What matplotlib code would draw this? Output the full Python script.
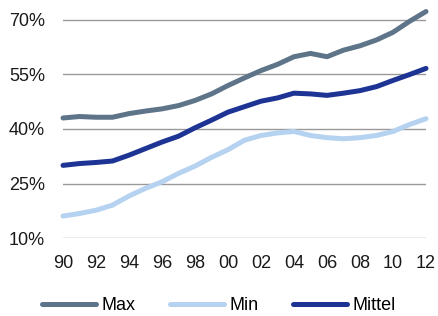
import matplotlib
matplotlib.use("Agg")
import matplotlib.pyplot as plt
import numpy as np

plt.rcParams.update({"font.family": ["Liberation Sans", "DejaVu Sans"],
                     "font.size": 13})

years = np.arange(1990, 2013)
max_vals = [43.0, 43.4, 43.2, 43.2, 44.2, 44.9, 45.5, 46.4, 47.8, 49.6, 51.9,
            54.0, 56.0, 57.7, 59.8, 60.7, 59.8, 61.6, 62.8, 64.4, 66.5, 69.5, 72.2]
min_vals = [16.1, 16.8, 17.7, 19.1, 21.6, 23.7, 25.5, 27.8, 29.8, 32.2, 34.3,
            36.9, 38.2, 38.9, 39.3, 38.2, 37.6, 37.3, 37.6, 38.2, 39.3, 41.2, 42.8]
mittel_vals = [30.0, 30.5, 30.8, 31.2, 32.8, 34.6, 36.4, 38.0, 40.3, 42.4, 44.6,
               46.1, 47.6, 48.5, 49.8, 49.6, 49.2, 49.8, 50.5, 51.6, 53.3, 54.9, 56.6]
series = [("Max", max_vals, "#5E7489"),
          ("Min", min_vals, "#B5D2F0"),
          ("Mittel", mittel_vals, "#1E3494")]
yticks = [10, 25, 40, 55, 70]
xticks = list(range(1990, 2013, 2))

fig = plt.figure(figsize=(4.38, 3.16), dpi=100)
ax = fig.add_axes([63 / 438, 1 - 238.3 / 316, (426 - 63) / 438, 237 / 316])

for name, vals, color in series:
    ax.plot(years, vals, color=color, lw=3.6, label=name,
            solid_capstyle="round", clip_on=False, zorder=3)

ax.set_xlim(1990, 2012)
ax.set_ylim(10, 75)
ax.set_yticks(yticks)
ax.set_yticklabels([f"{v}%" for v in yticks])
ax.set_xticks(xticks)
ax.set_xticklabels([f"{y % 100:02d}" for y in xticks])
for v in yticks:
    ax.axhline(v, color="#999999", lw=1.0, zorder=1)
for s in ax.spines.values():
    s.set_visible(False)
ax.tick_params(length=0, colors="#1a1a1a", labelsize=13)
ax.tick_params(axis="y", pad=13)
ax.tick_params(axis="x", pad=12)

fig.legend(loc="lower center", ncol=3, frameon=False, handlelength=3.0,
           columnspacing=1.9, handletextpad=0.3, fontsize=13,
           bbox_to_anchor=(0.5, -0.045))

fig.savefig("out.png", dpi=100)
